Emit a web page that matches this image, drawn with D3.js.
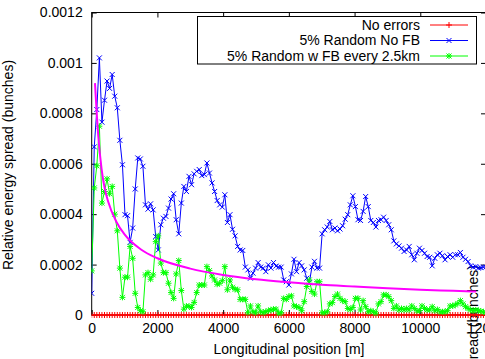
<!DOCTYPE html>
<html>
<head>
<meta charset="utf-8">
<script src="https://cdn.jsdelivr.net/npm/d3@7"></script>
<style>
  body { margin: 0; background: #fff; }
  svg { display: block; }
  text { font-family: "Liberation Sans", Arial, sans-serif; font-size: 14px; fill: #000; }
</style>
</head>
<body>
<svg id="chart" width="485" height="359"></svg>
<script>
// tick labels
const xTicks = [0, 2000, 4000, 6000, 8000, 10000, 12000];
const yTicks = [0, 0.0002, 0.0004, 0.0006, 0.0008, 0.001, 0.0012];

// series titles
const seriesNames = ["No errors", "5% Random No FB", "5% Random w FB every 2.5km"];

// samples are taken every ~78 m along the line (0 .. 12000 m)
const sampleCount = 155;
const sampleStep = 12000 / (sampleCount - 1);

// no errors: flat at zero everywhere
const noErrors = new Array(sampleCount).fill(0);

// 5% random, no feedback
const randomNoFB = [
  0.000086, 0.000667, 0.000815, 0.00102, 0.000765, 0.000852, 0.000928, 0.000899, 0.000954, 0.000868,
  0.000822, 0.000693, 0.000596, 0.000398, 0.000394, 0.000288, 0.000345, 0.0005, 0.000623, 0.000619,
  0.00059, 0.000437, 0.00042, 0.000441, 0.000417, 0.000311, 0.000258, 0.000358, 0.000384, 0.000391,
  0.000424, 0.00046, 0.000481, 0.000378, 0.000322, 0.000444, 0.00051, 0.00049,
  0.00055, 0.000517, 0.00056, 0.00057, 0.000577, 0.000553, 0.000557, 0.000603, 0.000563, 0.000524,
  0.00049, 0.000454, 0.000437, 0.000428, 0.000477, 0.000367, 0.000398, 0.00034, 0.000314, 0.000272,
  0.000258, 0.000256, 0.00019, 0.000179, 0.000146, 0.000166, 0.000186, 0.000208, 0.00019, 0.000186,
  0.000172, 0.000199, 0.000186, 0.000208, 0.000194, 0.00019, 0.00019, 0.000139,
  0.000132, 0.000119, 0.000163, 0.000221, 0.000172, 0.000208, 0.000195, 0.000179, 0.000146, 0.000128,
  0.00019, 0.000213, 0.000186, 0.000186, 0.000322,
  0.000338, 0.000349, 0.000371, 0.000338, 0.000345, 0.000334, 0.000341, 0.000354, 0.00038, 0.000398,
  0.000437, 0.000473, 0.00043, 0.000378, 0.000375, 0.000411, 0.00047, 0.00043, 0.000375, 0.000367,
  0.000349, 0.000375, 0.000378,
  0.000388, 0.000375, 0.000358, 0.000338, 0.000294, 0.000282, 0.000274, 0.000265, 0.000252, 0.000258,
  0.000272, 0.000239, 0.000219, 0.000245, 0.000265, 0.000256, 0.000245, 0.000232, 0.000229, 0.000195,
  0.000225, 0.000239, 0.000245, 0.000235, 0.000219, 0.000232, 0.000239, 0.000229, 0.000239, 0.000239,
  0.000248, 0.000229, 0.000221, 0.000212, 0.000195, 0.00019, 0.000192, 0.000186, 0.000188, 0.00019, 0.00019
];

// 5% random with feedback every 2.5 km
const randomWithFB = [
  0.000175, 0.000504, 0.000592, 0.000749, 0.000444, 0.00049, 0.00054, 0.000481, 0.00051, 0.0004,
  0.000334, 0.000186, 0.00007, 0.00015, 0.00015, 0.000272, 0.000225, 0.000086, 0.00003, 0.000017,
  0.000013, 0.000159, 0.000168, 0.000142, 0.000159, 0.000291, 0.000314, 0.000206, 0.000168, 0.000168,
  0.000126, 0.000089, 0.000066, 0.000163, 0.000216, 0.000097, 0.000023, 0.000035,
  0.000035, 0.00003, 0.00005, 0.000089, 0.000119, 0.000119, 0.000119, 0.000192, 0.000176, 0.000155,
  0.000139, 0.000122, 0.000126, 0.000136, 0.000192, 0.0001, 0.000139, 0.00011, 0.000102, 0.0001,
  0.000062, 0.000062, 0.000062, 0.000009, 0.000036, 0.000013, 0.000009, 0.000036, 0.000013, 0.000009,
  0.000013, 0.000017, 0.00002, 0.000023, 0.000023, 0.000007, 0.000009, 0.000066,
  0.000062, 0.000073, 0.000076, 0.000036, 0.000033, 0.00003, 0.000017, 0.000053, 0.000113, 0.000139,
  0.000093, 0.000083, 0.000132, 0.000132, 0.000009,
  0.000009, 0.000013, 0.000044, 0.000049, 0.000073, 0.000083, 0.000066, 0.000057, 0.000053, 0.000026,
  0.000022, 0.00003, 0.000066, 0.000066, 0.00002, 0.000057, 0.000033, 0.000013, 0.000017, 0.000013,
  0.000007, 0.000044, 0.000053,
  0.00008, 0.00008, 0.000073, 0.000057, 0.000026, 0.000036, 0.00002, 0.000026, 0.00002, 0.000026,
  0.00002, 0.000036, 0.000026, 0.000017, 0.000017, 0.000036, 0.000026, 0.00002, 0.00002, 0.000033,
  0.000017, 0.000022, 0.000013, 0.000013, 0.000013, 0.000017, 0.000036, 0.000036, 0.00004, 0.000046,
  0.000057, 0.000044, 0.000033, 0.000026, 0.00002, 0.000017,
  0.00002, 0.000018, 0.000015, 0.000012, 0.00001
];

// magenta reference curve (no key entry)
const fitX = [100, 200, 300, 400, 500, 750, 1000, 1500, 2000, 3000, 4000, 5000, 6000, 7000, 8000, 9000, 10000, 11000, 11700];
const fitY = [0.00092, 0.00071, 0.00058, 0.0005, 0.00045, 0.00037, 0.00032, 0.00026, 0.000225, 0.000184,
  0.000159, 0.000142, 0.00013, 0.00012, 0.000113, 0.000106, 0.0001, 0.000096, 0.000093];

const svg = d3.select("#chart");
const plotLeft = 91.7, plotRight = 486, plotTop = 12.5, plotBottom = 315;

const x = d3.scaleLinear().domain([0, 12000]).range([plotLeft, plotRight]);
const y = d3.scaleLinear().domain([0, 0.0012]).range([plotBottom, plotTop]);

// axes, ticks pointing inwards like gnuplot
svg.append("g")
  .attr("transform", "translate(" + plotLeft + ",0)")
  .call(d3.axisLeft(y).tickValues(yTicks).tickFormat(d => d === 0 ? "0" : String(+d.toFixed(4))).tickSizeInner(-5).tickSizeOuter(0).tickPadding(9))
  .call(g => g.select(".domain").remove())
  .call(g => g.selectAll("text").style("font-size", "14px").style("font-family", "'Liberation Sans', Arial, sans-serif"));

svg.append("g")
  .attr("transform", "translate(" + plotRight + ",0)")
  .call(d3.axisRight(y).tickValues(yTicks).tickFormat("").tickSizeInner(-5).tickSizeOuter(0))
  .call(g => g.select(".domain").remove());

svg.append("g")
  .attr("transform", "translate(0," + plotBottom + ")")
  .call(d3.axisBottom(x).tickValues(xTicks).tickFormat(d3.format("d")).tickSizeInner(-5).tickSizeOuter(0).tickPadding(8))
  .call(g => g.select(".domain").remove())
  .call(g => g.selectAll("text").style("font-size", "14px").style("font-family", "'Liberation Sans', Arial, sans-serif"));

svg.append("g")
  .attr("transform", "translate(0," + plotTop + ")")
  .call(d3.axisTop(x).tickValues(xTicks).tickFormat("").tickSizeInner(-5).tickSizeOuter(0))
  .call(g => g.select(".domain").remove());

svg.append("rect")
  .attr("x", plotLeft).attr("y", plotTop)
  .attr("width", plotRight - plotLeft).attr("height", plotBottom - plotTop)
  .attr("fill", "none").attr("stroke", "#000").attr("stroke-width", 1);

// axis titles
svg.append("text")
  .attr("x", 289).attr("y", 354)
  .attr("text-anchor", "middle")
  .text("Longitudinal position [m]");

svg.append("text")
  .attr("transform", "translate(13,165) rotate(-90)")
  .attr("text-anchor", "middle")
  .text("Relative energy spread (bunches)");

// label of the neighbouring panel that is cut off at the right edge
svg.append("text")
  .attr("transform", "translate(478,265) rotate(-90)")
  .attr("text-anchor", "end")
  .text("Relative energy spread (bunches)");

svg.append("defs").append("clipPath").attr("id", "plotClip")
  .append("rect").attr("x", plotLeft).attr("y", plotTop - 4).attr("width", plotRight - plotLeft + 4).attr("height", plotBottom - plotTop + 8);

const plot = svg.append("g").attr("clip-path", "url(#plotClip)");

const markers = {
  plus: "M-3,0H3M0,-3V3",
  cross: "M-2.5,-2.5L2.5,2.5M-2.5,2.5L2.5,-2.5",
  star: "M-3,0H3M0,-3V3M-2.5,-2.5L2.5,2.5M-2.5,2.5L2.5,-2.5"
};

const series = [
  { name: seriesNames[0], values: noErrors, color: "#ff0000", marker: markers.plus },
  { name: seriesNames[1], values: randomNoFB, color: "#0000ff", marker: markers.cross },
  { name: seriesNames[2], values: randomWithFB, color: "#00ff00", marker: markers.star }
];

const line = d3.line()
  .x((d, i) => x(i * sampleStep))
  .y(d => y(d));

series.forEach(s => {
  plot.append("path")
    .attr("d", line(s.values))
    .attr("fill", "none")
    .attr("stroke", s.color)
    .attr("stroke-width", 1);
  plot.append("g").selectAll("path")
    .data(s.values)
    .enter().append("path")
    .attr("transform", (d, i) => "translate(" + x(i * sampleStep) + "," + y(d) + ")")
    .attr("d", s.marker)
    .attr("fill", "none")
    .attr("stroke", s.color)
    .attr("stroke-width", 1);
});

// fitted curve on top
const fitLine = d3.line()
  .x((d, i) => x(fitX[i]))
  .y(d => y(d))
  .curve(d3.curveMonotoneX);

plot.append("path")
  .attr("d", fitLine(fitY))
  .attr("fill", "none")
  .attr("stroke", "#ff00ff")
  .attr("stroke-width", 2);

// key
const key = svg.append("g");
key.append("rect")
  .attr("x", 197.5).attr("y", 16.5)
  .attr("width", 279).attr("height", 47.5)
  .attr("fill", "#fff").attr("stroke", "#000").attr("stroke-width", 1);

series.forEach((s, i) => {
  const yy = 25 + i * 15.5;
  key.append("text")
    .attr("x", 420).attr("y", yy)
    .attr("dy", "0.35em")
    .attr("text-anchor", "end")
    .text(s.name);
  key.append("line")
    .attr("x1", 430).attr("x2", 468)
    .attr("y1", yy).attr("y2", yy)
    .attr("stroke", s.color).attr("stroke-width", 1);
  key.append("path")
    .attr("transform", "translate(449," + yy + ")")
    .attr("d", s.marker)
    .attr("fill", "none")
    .attr("stroke", s.color);
});
</script>
</body>
</html>
